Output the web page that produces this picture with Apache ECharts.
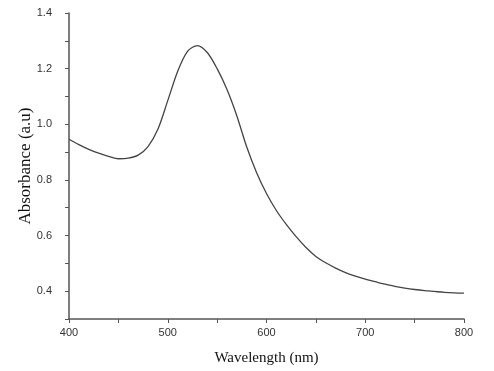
<!DOCTYPE html>
<html>
<head>
<meta charset="utf-8">
<script src="https://cdn.jsdelivr.net/npm/echarts@6/dist/echarts.min.js"></script>
<style>
html,body{margin:0;padding:0;background:#fff;}
#main{width:494px;height:371px;}
</style>
</head>
<body>
<div id="main"></div>
<script>
// wavelength (nm) and absorbance
var wavelength = [400,410,420,430,440,450,460,470,480,490,500,510,520,530,540,550,560,570,580,590,600,
    610,620,630,640,650,660,670,680,690,700,710,720,730,740,750,760,770,780,790,800];
var absorbance = [0.946,0.927,0.910,0.896,0.885,0.876,0.878,0.889,0.920,0.982,1.085,1.190,1.262,1.283,1.258,1.200,1.125,1.030,0.918,0.826,0.751,
    0.690,0.640,0.596,0.557,0.525,0.502,0.483,0.467,0.454,0.443,0.434,0.425,0.417,0.411,0.406,0.402,0.399,0.396,0.394,0.393];
var xTicks = [400,500,600,700,800];
var yTicks = [0.4,0.6,0.8,1.0,1.2,1.4];

var pts = [];
for (var i = 0; i < wavelength.length; i++) {
    pts.push([wavelength[i], absorbance[i]]);
}

var axisCol = '#555';
var chart = echarts.init(document.getElementById('main'));
chart.setOption({
    backgroundColor: '#fff',
    animation: false,
    grid: {left: 69, right: 30, top: 13, bottom: 51},
    xAxis: {
        type: 'value',
        min: 400, max: 800, interval: 50,
        name: 'Wavelength (nm)',
        nameLocation: 'middle',
        nameGap: 32,
        nameMoveOverlap: false,
        nameTextStyle: {fontFamily: 'Liberation Serif', fontSize: 15, color: '#111'},
        axisLine: {show: true, lineStyle: {color: axisCol, width: 1.5}},
        axisTick: {show: true, length: 4, lineStyle: {color: axisCol}},
        axisLabel: {
            margin: 8, fontFamily: 'Liberation Sans', fontSize: 11, color: '#333',
            formatter: function (v) { return xTicks.indexOf(v) >= 0 ? String(v) : ''; }
        },
        splitLine: {show: false}
    },
    yAxis: {
        type: 'value',
        min: 0.3, max: 1.4, interval: 0.1,
        name: 'Absorbance (a.u)',
        nameLocation: 'middle',
        nameGap: 35,
        nameMoveOverlap: false,
        nameTextStyle: {fontFamily: 'Liberation Serif', fontSize: 17, color: '#111'},
        axisLine: {show: true, lineStyle: {color: axisCol, width: 1.5}},
        axisTick: {show: true, length: 4, lineStyle: {color: axisCol}},
        axisLabel: {
            margin: 17, fontFamily: 'Liberation Sans', fontSize: 11, color: '#333',
            formatter: function (v) {
                var r = Math.round(v * 10) / 10;
                for (var k = 0; k < yTicks.length; k++) {
                    if (Math.abs(yTicks[k] - r) < 1e-6) return r.toFixed(1);
                }
                return '';
            }
        },
        splitLine: {show: false}
    },
    series: [{
        type: 'line',
        data: pts,
        smooth: 0.3,
        showSymbol: false,
        lineStyle: {color: '#444', width: 1.3}
    }]
});
</script>
</body>
</html>
